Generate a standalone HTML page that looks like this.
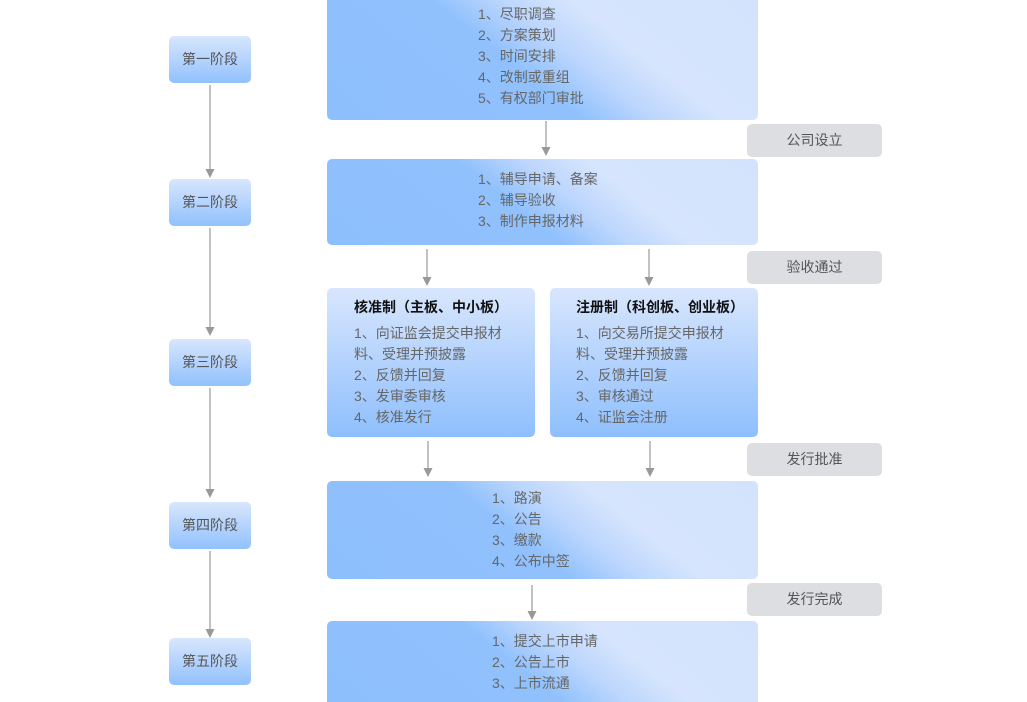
<!DOCTYPE html>
<html><head><meta charset="utf-8"><style>
body{margin:0;width:1027px;height:702px;background:#fff;position:relative;overflow:hidden;font-family:"Liberation Sans","Noto Sans CJK SC",sans-serif;}
.a{position:absolute;box-sizing:border-box;border-radius:5px;}
.st{left:169px;width:82px;height:47px;background:linear-gradient(to bottom,#d8e6fd,#91c1fd);color:#555;font-size:14px;line-height:47px;text-align:center;}
.bx{background:linear-gradient(38deg,#8ebffd 0%,#90c1fd 44%,#bcd6fd 56%,#d6e5fd 68%,#d3e3fd 100%);}
.sm{background:linear-gradient(to bottom,#d8e6fd,#8ebffd);}
.lb{left:747px;width:135px;height:33px;background:#dcdee2;color:#555;font-size:14px;line-height:33px;text-align:center;}
.t{position:absolute;color:#666;font-size:14px;line-height:21px;white-space:nowrap;}
.h{color:#111;font-weight:bold;}
</style></head><body>
<div class="a st" style="top:36px">第一阶段</div>
<div class="a st" style="top:179px">第二阶段</div>
<div class="a st" style="top:339px">第三阶段</div>
<div class="a st" style="top:502px">第四阶段</div>
<div class="a st" style="top:638px">第五阶段</div>

<div class="a bx" style="left:327px;top:0;width:431px;height:120px;border-radius:0 0 5px 5px"></div>
<div class="a bx" style="left:327px;top:159px;width:431px;height:86px"></div>
<div class="a sm" style="left:327px;top:288px;width:208px;height:149px"></div>
<div class="a sm" style="left:550px;top:288px;width:208px;height:149px"></div>
<div class="a bx" style="left:327px;top:481px;width:431px;height:98px"></div>
<div class="a bx" style="left:327px;top:621px;width:431px;height:81px;border-radius:5px 5px 0 0"></div>

<div class="a lb" style="top:124px">公司设立</div>
<div class="a lb" style="top:251px">验收通过</div>
<div class="a lb" style="top:443px">发行批准</div>
<div class="a lb" style="top:583px">发行完成</div>

<div class="t" style="left:478px;top:4px">1、尽职调查<br>2、方案策划<br>3、时间安排<br>4、改制或重组<br>5、有权部门审批</div>
<div class="t" style="left:478px;top:169px">1、辅导申请、备案<br>2、辅导验收<br>3、制作申报材料</div>
<div class="t h" style="left:354px;top:297px">核准制（主板、中小板）</div>
<div class="t" style="left:354px;top:323px">1、向证监会提交申报材<br>料、受理并预披露<br>2、反馈并回复<br>3、发审委审核<br>4、核准发行</div>
<div class="t h" style="left:576px;top:297px">注册制（科创板、创业板）</div>
<div class="t" style="left:576px;top:323px">1、向交易所提交申报材<br>料、受理并预披露<br>2、反馈并回复<br>3、审核通过<br>4、证监会注册</div>
<div class="t" style="left:492px;top:488px">1、路演<br>2、公告<br>3、缴款<br>4、公布中签</div>
<div class="t" style="left:492px;top:631px">1、提交上市申请<br>2、公告上市<br>3、上市流通</div>

<svg width="1027" height="702" style="position:absolute;left:0;top:0">
<g stroke="#999" stroke-width="1.2">
<line x1="210" y1="85" x2="210" y2="170"/>
<line x1="210" y1="228" x2="210" y2="328"/>
<line x1="210" y1="388" x2="210" y2="490"/>
<line x1="210" y1="551" x2="210" y2="630"/>
<line x1="546" y1="121" x2="546" y2="148"/>
<line x1="427" y1="249" x2="427" y2="278"/>
<line x1="649" y1="249" x2="649" y2="278"/>
<line x1="428" y1="441" x2="428" y2="469"/>
<line x1="650" y1="441" x2="650" y2="469"/>
<line x1="532" y1="585" x2="532" y2="612"/>
</g>
<g fill="#999">
<path d="M205.5,169 h9 l-4.5,9z"/>
<path d="M205.5,327 h9 l-4.5,9z"/>
<path d="M205.5,489 h9 l-4.5,9z"/>
<path d="M205.5,629 h9 l-4.5,9z"/>
<path d="M541.5,147 h9 l-4.5,9z"/>
<path d="M422.5,277 h9 l-4.5,9z"/>
<path d="M644.5,277 h9 l-4.5,9z"/>
<path d="M423.5,468 h9 l-4.5,9z"/>
<path d="M645.5,468 h9 l-4.5,9z"/>
<path d="M527.5,611 h9 l-4.5,9z"/>
</g></svg>
</body></html>
